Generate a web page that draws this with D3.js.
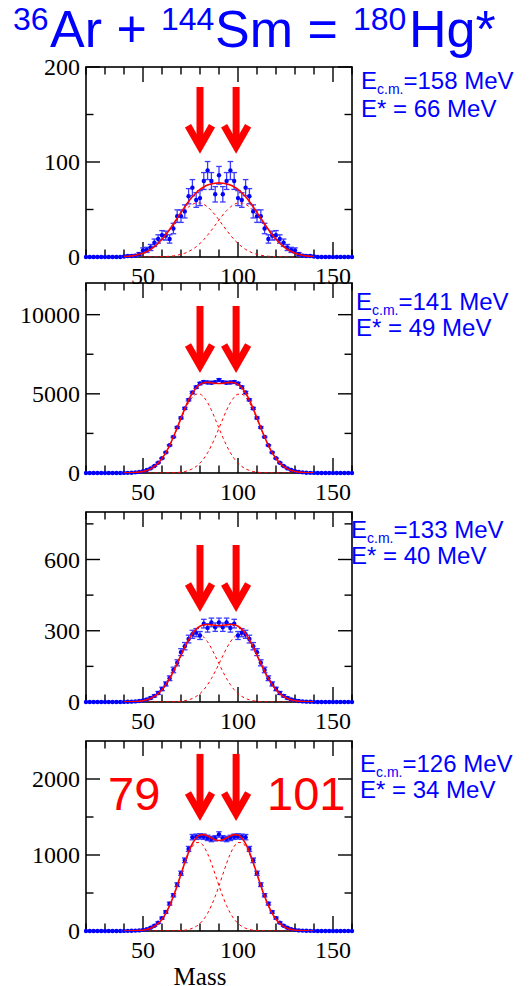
<!DOCTYPE html>
<html>
<head>
<meta charset="utf-8">
<script src="https://cdn.jsdelivr.net/npm/d3@7"></script>
<style>
  body { margin: 0; background: #fff; }
  svg { display: block; }
</style>
</head>
<body>
<svg id="chart" width="531" height="986"></svg>
<script>
// measured spectra, mass 20..160 in steps of 2
var dataMass = [20,22,24,26,28,30,32,34,36,38,40,42,44,46,48,50,52,54,56,58,60,62,64,66,68,70,72,74,76,78,80,82,84,86,88,90,92,94,96,98,100,102,104,106,108,110,112,114,116,118,120,122,124,126,128,130,132,134,136,138,140,142,144,146,148,150,152,154,156,158,160];

var counts1 = [0,0,0,0,0,0,0,0,0,0, 0.5,1,1,1.5,3,7,7.5,10,15,19, 23,22.5,19,30,43,43,48,64,73,60, 62,80,91,80,66,86,66,80,91,80, 62,60,73,64,48,43,43,30,19,22.5, 23,19,15,10,7.5,7,3,1.5,1,1, 0.5,0,0,0,0,0,0,0,0,0,0];
var err1 = [0,0,0,0,0,0,0,0,0,0, 0.7,1,1,1.2,1.7,2.6,2.7,3.2,3.9,4.4, 4.8,4.7,4.4,5.5,6.6,6.6,6.9,8,8.5,7.7, 7.9,8.9,9.5,8.9,8.1,9.3,8.1,8.9,9.5,8.9, 7.9,7.7,8.5,8,6.9,6.6,6.6,5.5,4.4,4.7, 4.8,4.4,3.9,3.2,2.7,2.6,1.7,1.2,1,1, 0.7,0,0,0,0,0,0,0,0,0,0];

var counts2 = [0,0,0,0,0,0,0,0,0,0, 5,10,20,40,70,120,190,290,440,650, 930,1300,1750,2280,2880,3480,4080,4620,5080,5420, 5650,5750,5720,5700,5740,5880,5740,5700,5720,5750, 5650,5420,5080,4620,4080,3480,2880,2280,1750,1300, 930,650,440,290,190,120,70,40,20,10, 5,0,0,0,0,0,0,0,0,0,0];
var err2 = [0,0,0,0,0,0,0,0,0,0, 2,3,4,6,8,11,14,17,21,25, 30,36,42,48,54,59,64,68,71,74, 75,76,76,75,76,77,76,75,76,76, 75,74,71,68,64,59,54,48,42,36, 30,25,21,17,14,11,8,6,4,3, 2,0,0,0,0,0,0,0,0,0,0];

var counts3 = [0,0,0,0,0,0,0,0,0,0, 0.5,1,1.5,2.5,4,7,11,17,26,38, 55,76,100,135,165,210,235,265,285,292, 280,330,312,335,315,335,315,335,312,330, 280,292,285,265,235,210,165,135,100,76, 55,38,26,17,11,7,4,2.5,1.5,1, 0.5,0,0,0,0,0,0,0,0,0,0];
var err3 = [0,0,0,0,0,0,0,0,0,0, 0.7,1,1.2,1.6,2,2.6,3.3,4.1,5.1,6.2, 7.4,8.7,10,11.6,12.8,14.5,15.3,16.3,16.9,17.1, 16.7,18.2,17.7,18.3,17.7,18.3,17.7,18.3,17.7,18.2, 16.7,17.1,16.9,16.3,15.3,14.5,12.8,11.6,10,8.7, 7.4,6.2,5.1,4.1,3.3,2.6,2,1.6,1.2,1, 0.7,0,0,0,0,0,0,0,0,0,0];

var counts4 = [0,0,0,0,0,0,0,0,0,0, 1,2,3,5,8,15,25,42,70,110, 170,250,360,470,610,760,930,1080,1235,1240, 1245,1240,1225,1210,1220,1270,1220,1210,1225,1240, 1245,1240,1235,1080,930,760,610,470,360,250, 170,110,70,42,25,15,8,5,3,2, 1,0,0,0,0,0,0,0,0,0,0];
var err4 = [0,0,0,0,0,0,0,0,0,0, 1,1.4,1.7,2.2,2.8,3.9,5,6.5,8.4,10.5, 13,15.8,19,21.7,24.7,27.6,30.5,32.9,35.1,35.2, 35.3,35.2,35,34.8,34.9,35.6,34.9,34.8,35,35.2, 35.3,35.2,35.1,32.9,30.5,27.6,24.7,21.7,19,15.8, 13,10.5,8.4,6.5,5,3.9,2.8,2.2,1.7,1.4, 1,0,0,0,0,0,0,0,0,0,0];

// fitted curves (total, fragment near 79, fragment near 101), mass 40..140
var fitMass = [40,42,44,46,48,50,52,54,56,58,60,62,64,66,68,70,72,74,76,78,80,82,84,86,88,90,92,94,96,98,100,102,104,106,108,110,112,114,116,118,120,122,124,126,128,130,132,134,136,138,140];

var fit1 = [0.5,0.8,1.2,1.9,2.8,4.0,5.8,8.1,10.9,14.5,18.6,23.5,28.9,34.7,40.9,47.0,52.8,58.5,63.4,67.6,71.1,73.7,75.7,76.9,77.7,78.0,77.7,76.9,75.7,73.7,71.1,67.6,63.4,58.5,52.8,47.0,40.9,34.7,28.9,23.5,18.6,14.5,10.9,8.1,5.8,4.0,2.8,1.9,1.2,0.8,0.5];
var left1 = [0.5,0.8,1.2,1.9,2.8,4.0,5.8,8.0,10.8,14.3,18.3,23.0,28.1,33.5,39.0,44.2,48.8,52.7,55.4,56.8,56.8,55.4,52.7,48.8,44.2,39.0,33.5,28.1,23.0,18.3,14.3,10.8,8.0,5.8,4.0,2.8,1.9,1.2,0.8,0.5,0.3,0.2,0.1,0.1,0,0,0,0,0,0,0];
var right1 = [0,0,0,0,0,0,0,0.1,0.1,0.2,0.3,0.5,0.8,1.2,1.9,2.8,4.0,5.8,8.0,10.8,14.3,18.3,23.0,28.1,33.5,39.0,44.2,48.8,52.7,55.4,56.8,56.8,55.4,52.7,48.8,44.2,39.0,33.5,28.1,23.0,18.3,14.3,10.8,8.0,5.8,4.0,2.8,1.9,1.2,0.8,0.5];

var fit2 = [4,8,16,30,54,95,161,262,413,626,912,1284,1738,2271,2855,3464,4065,4606,5052,5388,5600,5700,5725,5700,5665,5650,5665,5700,5725,5700,5600,5388,5052,4606,4065,3464,2855,2271,1738,1284,912,626,413,262,161,95,54,30,16,8,4];
var left2 = [4,8,16,30,54,95,161,262,413,625,910,1280,1730,2255,2825,3410,3970,4445,4790,4975,4975,4790,4445,3970,3410,2825,2255,1730,1280,910,625,413,262,161,95,54,30,16,8,4,2,1,0,0,0,0,0,0,0,0,0];
var right2 = [0,0,0,0,0,0,0,0,0,1,2,4,8,16,30,54,95,161,262,413,625,910,1280,1730,2255,2825,3410,3970,4445,4790,4975,4975,4790,4445,3970,3410,2825,2255,1730,1280,910,625,413,262,161,95,54,30,16,8,4];

var fit3 = [0.2,0.5,0.9,1.7,3.0,5.4,9.1,14.9,23.5,35.6,52.0,73.2,99.1,129.4,162.7,197.4,231.7,262.5,287.9,307.1,319.2,324.9,326.4,324.9,322.9,322.0,322.9,324.9,326.4,324.9,319.2,307.1,287.9,262.5,231.7,197.4,162.7,129.4,99.1,73.2,52.0,35.6,23.5,14.9,9.1,5.4,3.0,1.7,0.9,0.5,0.2];
var left3 = [0.2,0.5,0.9,1.7,3.0,5.4,9.1,14.9,23.5,35.6,51.9,73.0,98.6,128.5,161.0,194.4,226.3,253.4,273.0,283.6,283.6,273.0,253.4,226.3,194.4,161.0,128.5,98.6,73.0,51.9,35.6,23.5,14.9,9.1,5.4,3.0,1.7,0.9,0.5,0.2,0.1,0,0,0,0,0,0,0,0,0,0];
var right3 = [0,0,0,0,0,0,0,0,0,0,0.1,0.2,0.5,0.9,1.7,3.0,5.4,9.1,14.9,23.5,35.6,51.9,73.0,98.6,128.5,161.0,194.4,226.3,253.4,273.0,283.6,283.6,273.0,253.4,226.3,194.4,161.0,128.5,98.6,73.0,51.9,35.6,23.5,14.9,9.1,5.4,3.0,1.7,0.9,0.5,0.2];

var fit4 = [0.2,0.6,1.3,2.7,5.5,10.6,19.9,35.6,61.0,99.6,155.7,233.0,334.1,456.4,598.2,749.6,901.0,1037.8,1148.3,1224.4,1263.0,1268.3,1250.7,1223.9,1199.2,1191.0,1199.2,1223.9,1250.7,1268.3,1263.0,1224.4,1148.3,1037.8,901.0,749.6,598.2,456.4,334.1,233.0,155.7,99.6,61.0,35.6,19.9,10.6,5.5,2.7,1.3,0.6,0.2];
var left4 = [0.2,0.6,1.3,2.7,5.5,10.6,19.9,35.6,61.0,99.6,155.6,232.8,333.5,455.1,595.5,744.1,890.4,1017.9,1112.7,1163.4,1163.4,1112.7,1017.9,890.4,744.1,595.5,455.1,333.5,232.8,155.6,99.6,61.0,35.6,19.9,10.6,5.5,2.7,1.3,0.6,0.2,0.1,0,0,0,0,0,0,0,0,0,0];
var right4 = [0,0,0,0,0,0,0,0,0,0,0.1,0.2,0.6,1.3,2.7,5.5,10.6,19.9,35.6,61.0,99.6,155.6,232.8,333.5,455.1,595.5,744.1,890.4,1017.9,1112.7,1163.4,1163.4,1112.7,1017.9,890.4,744.1,595.5,455.1,333.5,232.8,155.6,99.6,61.0,35.6,19.9,10.6,5.5,2.7,1.3,0.6,0.2];

// axes
var xTicks = [20,30,40,50,60,70,80,90,100,110,120,130,140,150,160];
var xTickLabels = [50,100,150];
var yTicks1 = [0,50,100,150,200], yLabels1 = [0,100,200];
var yTicks2 = [0,2500,5000,7500,10000], yLabels2 = [0,5000,10000];
var yTicks3 = [0,150,300,450,600,750], yLabels3 = [0,300,600];
var yTicks4 = [0,500,1000,1500,2000], yLabels4 = [0,1000,2000];

// annotations
var arrowMass = [80, 99];
var ecmValues = ['158', '141', '133', '126'];
var estarValues = ['66', '49', '40', '34'];
var peakLabels = ['79', '101'];

var panels = [
  {top: 67,  bottom: 257, yMax: 200,   yTicks: yTicks1, yLabels: yLabels1, counts: counts1, errs: err1, fit: fit1, left: left1, right: right1, arrowTop: 179,   arrowTip: 113,  lx: 361, ly: 89,  ly2: 117},
  {top: 283, bottom: 473, yMax: 12000, yTicks: yTicks2, yLabels: yLabels2, counts: counts2, errs: err2, fit: fit2, left: left2, right: right2, arrowTop: 10550, arrowTip: 6570, lx: 356, ly: 310, ly2: 336},
  {top: 512, bottom: 702, yMax: 800,   yTicks: yTicks3, yLabels: yLabels3, counts: counts3, errs: err3, fit: fit3, left: left3, right: right3, arrowTop: 661,   arrowTip: 396,  lx: 351, ly: 538, ly2: 564},
  {top: 741, bottom: 931, yMax: 2500,  yTicks: yTicks4, yLabels: yLabels4, counts: counts4, errs: err4, fit: fit4, left: left4, right: right4, arrowTop: 2330,  arrowTip: 1500, lx: 360, ly: 772, ly2: 798}
];

var svg = d3.select('#chart');
var blue = '#0000ff';
var red = '#ff0000';
var plotLeft = 86, plotRight = 352;

var x = d3.scaleLinear().domain([20, 160]).range([plotLeft, plotRight]);

// title
var title = svg.append('g').attr('fill', blue).attr('font-family', 'Liberation Sans, Arial, sans-serif');
title.append('text').attr('x', 13).attr('y', 30).attr('font-size', 32).text('36');
title.append('text').attr('x', 50).attr('y', 47).attr('font-size', 52).text('Ar +');
title.append('text').attr('x', 161).attr('y', 30).attr('font-size', 32).text('144');
title.append('text').attr('x', 215).attr('y', 47).attr('font-size', 52).text('Sm =');
title.append('text').attr('x', 353).attr('y', 30).attr('font-size', 32).text('180');
title.append('text').attr('x', 409).attr('y', 47).attr('font-size', 52).text('Hg*');

panels.forEach(function(p, i) {
  var y = d3.scaleLinear().domain([0, p.yMax]).range([p.bottom, p.top]);
  var g = svg.append('g');

  var clipId = 'clip' + i;
  g.append('clipPath').attr('id', clipId)
    .append('rect')
    .attr('x', plotLeft).attr('y', p.top)
    .attr('width', plotRight - plotLeft).attr('height', p.bottom - p.top);

  // frame
  g.append('rect')
    .attr('x', plotLeft).attr('y', p.top)
    .attr('width', plotRight - plotLeft).attr('height', p.bottom - p.top)
    .attr('fill', 'none').attr('stroke', '#000').attr('stroke-width', 1.6);

  // x ticks, bottom and top, pointing in
  xTicks.forEach(function(t) {
    var len = xTickLabels.indexOf(t) >= 0 ? 15 : 7.5;
    g.append('line').attr('x1', x(t)).attr('x2', x(t)).attr('y1', p.bottom).attr('y2', p.bottom - len)
      .attr('stroke', '#000').attr('stroke-width', 1.4);
    g.append('line').attr('x1', x(t)).attr('x2', x(t)).attr('y1', p.top).attr('y2', p.top + len)
      .attr('stroke', '#000').attr('stroke-width', 1.4);
  });
  p.yTicks.forEach(function(t) {
    var len = p.yLabels.indexOf(t) >= 0 ? 14 : 7.5;
    g.append('line').attr('x1', plotLeft).attr('x2', plotLeft + len).attr('y1', y(t)).attr('y2', y(t))
      .attr('stroke', '#000').attr('stroke-width', 1.4);
    g.append('line').attr('x1', plotRight).attr('x2', plotRight - len).attr('y1', y(t)).attr('y2', y(t))
      .attr('stroke', '#000').attr('stroke-width', 1.4);
  });

  // tick labels
  var serif = 'Liberation Serif, Times New Roman, serif';
  g.selectAll('.ylab').data(p.yLabels).enter().append('text')
    .attr('x', plotLeft - 6).attr('y', d => y(d)).attr('dy', '0.35em')
    .attr('text-anchor', 'end').attr('font-family', serif).attr('font-size', 24)
    .text(d => d);
  g.selectAll('.xlab').data(xTickLabels).enter().append('text')
    .attr('x', d => x(d)).attr('y', p.bottom + 27)
    .attr('text-anchor', 'middle').attr('font-family', serif).attr('font-size', 24)
    .text(d => d);

  var line = d3.line()
    .x((d, j) => x(fitMass[j]))
    .y(d => y(d))
    .curve(d3.curveMonotoneX);

  // component fits
  var comps = g.append('g').attr('clip-path', 'url(#' + clipId + ')');
  [p.left, p.right].forEach(function(arr) {
    comps.append('path').attr('d', line(arr))
      .attr('fill', 'none').attr('stroke', red).attr('stroke-width', 1)
      .attr('stroke-dasharray', '3,3');
  });

  // data with error bars
  var pts = g.append('g');
  dataMass.forEach(function(m, j) {
    var v = p.counts[j], e = p.errs[j];
    if (e > 0) {
      pts.append('line').attr('x1', x(m)).attr('x2', x(m)).attr('y1', y(v - e)).attr('y2', y(v + e))
        .attr('stroke', '#3b3bff').attr('stroke-width', 1.3);
      [v - e, v + e].forEach(function(c) {
        pts.append('line').attr('x1', x(m) - 2.8).attr('x2', x(m) + 2.8).attr('y1', y(c)).attr('y2', y(c))
          .attr('stroke', '#3b3bff').attr('stroke-width', 1.3);
      });
    }
    pts.append('circle').attr('cx', x(m)).attr('cy', y(v)).attr('r', 2.2).attr('fill', blue);
  });

  // total fit
  g.append('g').attr('clip-path', 'url(#' + clipId + ')')
    .append('path').attr('d', line(p.fit))
    .attr('fill', 'none').attr('stroke', red).attr('stroke-width', 1.6);

  // arrows at the fragment masses
  arrowMass.forEach(function(m) {
    var ax = x(m), yTop = y(p.arrowTop), yTip = y(p.arrowTip);
    g.append('line').attr('x1', ax).attr('x2', ax).attr('y1', yTop).attr('y2', yTip - 4)
      .attr('stroke', red).attr('stroke-width', 7);
    g.append('path')
      .attr('d', 'M' + (ax - 12) + ',' + (yTip - 24) + 'L' + ax + ',' + (yTip - 3) + 'L' + (ax + 12) + ',' + (yTip - 24))
      .attr('fill', 'none').attr('stroke', red).attr('stroke-width', 7)
      .attr('stroke-linejoin', 'miter').attr('stroke-miterlimit', 10);
  });

  // energy labels
  var lab = g.append('text').attr('x', p.lx).attr('y', p.ly)
    .attr('fill', blue).attr('font-family', 'Liberation Sans, Arial, sans-serif').attr('font-size', 24);
  lab.append('tspan').text('E');
  lab.append('tspan').attr('font-size', 14).attr('dy', 5).text('c.m.');
  lab.append('tspan').attr('dy', -5).text('=' + ecmValues[i] + ' MeV');
  g.append('text').attr('x', p.lx).attr('y', p.ly2)
    .attr('fill', blue).attr('font-family', 'Liberation Sans, Arial, sans-serif').attr('font-size', 24)
    .text('E* = ' + estarValues[i] + ' MeV');
});

// fragment mass labels in the last panel
svg.append('text').attr('x', 108).attr('y', 810).attr('fill', red)
  .attr('font-family', 'Liberation Sans, Arial, sans-serif').attr('font-size', 47).text(peakLabels[0]);
svg.append('text').attr('x', 267).attr('y', 810).attr('fill', red)
  .attr('font-family', 'Liberation Sans, Arial, sans-serif').attr('font-size', 47).text(peakLabels[1]);

// axis title
svg.append('text').attr('x', 200).attr('y', 985).attr('text-anchor', 'middle')
  .attr('font-family', 'Liberation Serif, Times New Roman, serif').attr('font-size', 25).text('Mass');
</script>
</body>
</html>
